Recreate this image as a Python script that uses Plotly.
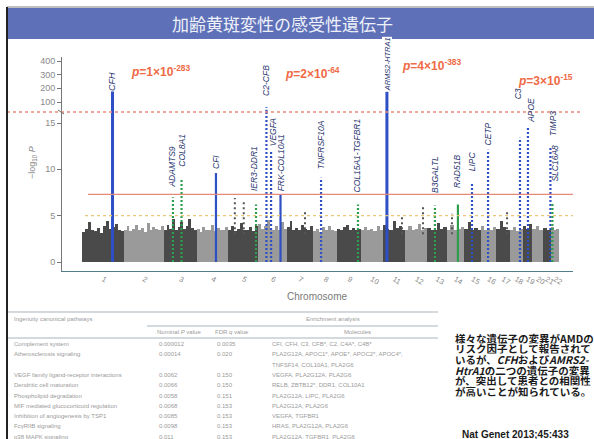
import math
import plotly.graph_objects as go

FIG_W, FIG_H = 594, 439

# ---------------- data ----------------
chrom_names = [str(i) for i in range(1, 23)]
chrom_len_mb = [249.3, 243.2, 198.0, 191.2, 180.9, 171.1, 159.1, 146.4, 141.2, 135.5, 135.0,
                133.9, 115.2, 107.3, 102.5, 90.4, 81.2, 78.1, 59.1, 63.0, 48.1, 51.3]

# upper envelope of the bulk signal (-log10 P) along each chromosome
bulk_signal = [
    [3.2, 3.6, 4.3, 3.4, 3.3, 3.7, 3.1, 3.9, 4.4, 3.6, 3.8, 4.1, 3.5, 3.3],
    [3.5, 3.9, 3.3, 3.6, 4.0, 3.4, 3.7, 3.2, 4.2, 3.5, 3.8, 3.6, 3.4, 3.9],
    [3.4, 4.0, 3.6, 4.6, 3.5, 3.8, 4.3, 3.6, 3.9, 4.6, 3.7, 3.4],
    [3.6, 3.2, 3.8, 3.4, 3.5, 4.0, 3.3, 3.7, 3.5, 3.4, 3.8],
    [3.5, 3.9, 3.3, 3.6, 4.2, 3.5, 3.4, 3.8, 3.3, 3.9],
    [4.1, 3.6, 3.9, 4.5, 3.7, 3.5, 3.9, 3.4, 4.3, 3.6],
    [3.8, 4.4, 3.5, 3.7, 3.4, 4.0, 3.6, 3.5, 3.9],
    [3.3, 3.6, 3.2, 3.8, 3.4, 3.9, 3.5, 3.3],
    [3.6, 3.4, 3.8, 4.0, 3.5, 3.7, 3.4, 3.6],
    [3.5, 3.8, 3.4, 3.6, 3.3, 3.9, 3.5],
    [4.0, 3.6, 3.5, 4.4, 3.7, 3.9, 3.5],
    [3.4, 3.9, 3.5, 3.6, 4.1, 3.4, 3.7],
    [3.7, 3.4, 3.5, 4.2, 3.6, 3.8],
    [3.5, 4.0, 3.4, 3.6, 3.8],
    [3.6, 4.3, 3.5, 3.7, 3.4],
    [3.9, 3.5, 3.7, 3.4, 3.8],
    [3.6, 4.4, 3.8, 3.5],
    [3.5, 3.8, 3.3, 3.6],
    [3.9, 3.6, 4.1],
    [3.6, 3.9, 3.5],
    [3.7, 3.4],
    [3.8, 3.5, 3.6],
]

# sub-threshold spikes (genome-wide position in Mb, -log10 P)
minor_pos_mb = [921, 975, 1345, 1931, 2058, 2233, 2566]
minor_log_p = [6.9, 6.7, 5.6, 5.0, 5.9, 5.2, 5.4]

# highlighted loci (genome-wide position in Mb, known / new)
locus_names = ["CFH", "ADAMTS9", "COL8A1", "CFI", "IER3-DDR1", "C2-CFB", "VEGFA",
               "FRK-COL10A1", "TNFRSF10A", "COL15A1-TGFBR1", "ARMS2-HTRA1", "B3GALTL",
               "RAD51B", "LIPC", "CETP", "C3", "APOE", "TIMP3", "SLC16A8"]
locus_pos_mb = [182, 547, 599, 807, 1049, 1112, 1140, 1197, 1442, 1665, 1840, 2130,
                2269, 2354, 2451, 2644, 2692, 2828, 2840]
locus_status = ["known", "new", "new", "known", "new", "known", "known", "known", "known",
                "new", "known", "new", "new", "known", "known", "known", "known", "known", "new"]

# strongest signals, as P = mantissa x 10^exponent
lead_loci = ["CFH", "C2-CFB", "ARMS2-HTRA1", "APOE"]
lead_mantissa = [1, 2, 4, 3]
lead_exponent = [-283, -64, -383, -15]

# peak -log10 P of the remaining loci
other_log_p = {"ADAMTS9": 7.0, "COL8A1": 9.0, "CFI": 9.6, "IER3-DDR1": 6.2, "VEGFA": 11.9,
               "FRK-COL10A1": 7.3, "TNFRSF10A": 9.1, "COL15A1-TGFBR1": 6.2, "B3GALTL": 6.1,
               "RAD51B": 6.2, "LIPC": 8.5, "CETP": 12.1, "C3": 13.4, "TIMP3": 12.3,
               "SLC16A8": 6.4}

sig_line = 7.3
sugg_line = 5.0

# pathway enrichment table
pathways = ["Complement system", "Atherosclerosis signaling", "",
            "VEGF family ligand-receptor interactions", "Dendritic cell maturation",
            "Phospholipid degradation", "MIF mediated glucocorticoid regulation",
            "Inhibition of angiogenesis by TSP1", "FcγRIIB signaling", "p38 MAPK signaling"]
nominal_p = ["0.000012", "0.00014", "", "0.0062", "0.0066", "0.0058", "0.0068", "0.0085",
             "0.0098", "0.011"]
fdr_q = ["0.0035", "0.020", "", "0.150", "0.150", "0.151", "0.153", "0.153", "0.153", "0.153"]
molecules = ["CFI, CFH, C3, CFB*, C2, C4A*, C4B*",
             "PLA2G12A, APOC1*, APOE*, APOC2*, APOC4*,",
             "TNFSF14, COL10A1, PLA2G6",
             "VEGFA, PLA2G12A, PLA2G6",
             "RELB, ZBTB12*, DDR1, COL10A1",
             "PLA2G12A, LIPC, PLA2G6",
             "PLA2G12A, PLA2G6",
             "VEGFA, TGFBR1",
             "HRAS, PLA2G12A, PLA2G6",
             "PLA2G12A, TGFBR1, PLA2G6"]

note_lines = ["様々な遺伝子の変異がAMDの",
              "リスク因子として報告されて",
              "いるが、<i>CFH</i>および<i>AMRS2-</i>",
              "<i>HtrA1</i>の二つの遺伝子の変異",
              "が、突出して患者との相関性",
              "が高いことが知られている。"]
citation = "Nat Genet 2013;45:433"
title = "加齢黄斑変性の感受性遺伝子"

# ---------------- derived values ----------------
lead_log_p = {n: -(e + math.log10(m)) for n, m, e in zip(lead_loci, lead_mantissa, lead_exponent)}
locus_log_p = [lead_log_p.get(n, other_log_p.get(n)) for n in locus_names]


def px(x):
    return x / FIG_W


def py(y):
    return 1 - y / FIG_H


X0_PX, MB_PX = 82.4, 0.1655          # horizontal genome scale
AX_L, AX_R = 61, 573                  # plot area in pixels
LOW_BOT, BREAK, UP_TOP = 271, 112, 57
LOW_PX, UP_PX = 9.267, 0.13667        # pixels per unit on each y segment

x_range = [(AX_L - X0_PX) / MB_PX, (AX_R - X0_PX) / MB_PX]
low_range = [-(LOW_BOT - 262) / LOW_PX, (262 - BREAK) / LOW_PX]
up_range = [100 - (BREAK - 102) / UP_PX, 100 + (102 - UP_TOP) / UP_PX]

BLUE = "#2f4fc4"
GREEN = "#2e9e4c"
LABEL = "#2b3770"
RED = "#ef6a45"
GREY_TXT = "#8a8a8a"
FONT = "Liberation Sans, Arial, sans-serif"
JP = "Noto Sans CJK JP"

starts = []
acc = 0.0
for L in chrom_len_mb:
    starts.append(acc)
    acc += L
centers = [s + L / 2 for s, L in zip(starts, chrom_len_mb)]

fig = go.Figure()

# bulk signal as bars, alternating shades by chromosome
for i, (s, L, vals) in enumerate(zip(starts, chrom_len_mb, bulk_signal)):
    n = len(vals)
    w = L / n
    fig.add_trace(go.Bar(
        x=[s + (k + 0.5) * w for k in range(n)], y=vals, width=[w] * n,
        marker=dict(color="#4a4a4a" if i % 2 == 0 else "#9a9a9a", line=dict(width=0)),
        xaxis="x", yaxis="y", showlegend=False, hoverinfo="skip"))

# sub-threshold spikes
for pos, val in zip(minor_pos_mb, minor_log_p):
    fig.add_trace(go.Scatter(
        x=[pos, pos], y=[3, val], mode="lines",
        line=dict(color="#555555", width=2, dash="2px,3px"),
        xaxis="x", yaxis="y", showlegend=False, hoverinfo="skip"))

# highlighted loci: lower segment and (clipped) upper segment
solid = {"CFH", "CFI", "FRK-COL10A1", "ARMS2-HTRA1", "RAD51B"}
for name, pos, val, st in zip(locus_names, locus_pos_mb, locus_log_p, locus_status):
    col = BLUE if st == "known" else GREEN
    dash = "solid" if name in solid else "2px,2px"
    w = 3 if name in ("CFH", "ARMS2-HTRA1") else 2.2
    fig.add_trace(go.Scatter(x=[pos, pos], y=[0, val], mode="lines",
                             line=dict(color=col, width=w, dash=dash),
                             xaxis="x", yaxis="y", showlegend=False, hoverinfo="skip"))
    if val > low_range[1]:
        fig.add_trace(go.Scatter(x=[pos, pos], y=[0, val], mode="lines",
                                 line=dict(color=col, width=w, dash=dash),
                                 xaxis="x", yaxis="y2", showlegend=False, hoverinfo="skip"))

ann = []
shapes = []

# gene labels (vertical); the two tallest labels sit on a white box over their peaks
label_style = {"CFH": (0, -15, 9), "ADAMTS9": (-1, 9, 8.5), "COL8A1": (1, 11, 8.5),
               "CFI": (0, 3, 8.5), "IER3-DDR1": (-2, 12, 8.5), "C2-CFB": (0, 10, 8.5),
               "VEGFA": (2, 4, 8.5), "FRK-COL10A1": (0, 2, 8.5), "TNFRSF10A": (0, 7, 8.5),
               "COL15A1-TGFBR1": (-1, 11, 8.5), "ARMS2-HTRA1": (0, -29, 7.5),
               "B3GALTL": (0, 12, 8.5), "RAD51B": (-1, 16, 8.5), "LIPC": (0, 11, 8.5),
               "CETP": (0, 3, 8.5), "C3": (-2, 38, 8.5), "APOE": (3, 4, 8.5),
               "TIMP3": (2, 11, 8.5), "SLC16A8": (3, 20, 8.5)}
for name, pos, val in zip(locus_names, locus_pos_mb, locus_log_p):
    dx, dy, fs = label_style[name]
    on_upper = val > low_range[1]
    boxed = name in ("CFH", "ARMS2-HTRA1")
    ann.append(dict(x=pos, y=val, xref="x", yref="y2" if on_upper else "y",
                    text="<i>%s</i>" % name, textangle=-90, showarrow=False,
                    xanchor="center", yanchor="bottom", xshift=dx, yshift=dy,
                    bgcolor="white" if boxed else "rgba(0,0,0,0)", borderpad=0,
                    font=dict(family=FONT, size=fs, color=LABEL)))

# p-values of the strongest signals
p_place = {"CFH": (160, 71), "C2-CFB": (312, 73), "ARMS2-HTRA1": (431, 65), "APOE": (545, 80)}
for name, m, e in zip(lead_loci, lead_mantissa, lead_exponent):
    cx, cy = p_place[name]
    ann.append(dict(x=px(cx), y=py(cy), xref="paper", yref="paper", showarrow=False,
                    text="<b><i>p</i>=%d×10<sup>%d</sup></b>" % (m, e),
                    font=dict(family=FONT, size=12, color=RED),
                    xanchor="center", yanchor="middle"))

# axis text
ann.append(dict(x=px(33), y=py(163), xref="paper", yref="paper", showarrow=False,
                text="−log<sub>10</sub> <i>P</i>", textangle=-90, xanchor="center",
                yanchor="middle", font=dict(family=FONT, size=9, color=GREY_TXT)))
ann.append(dict(x=px(317), y=py(296), xref="paper", yref="paper", showarrow=False,
                text="Chromosome", xanchor="center", yanchor="middle",
                font=dict(family=FONT, size=10, color="#7a7a7a")))

# threshold lines
shapes.append(dict(type="line", xref="paper", yref="paper", x0=px(7), x1=px(580),
                   y0=py(BREAK), y1=py(BREAK), line=dict(color="#ec8b78", width=1.5, dash="dot")))
shapes.append(dict(type="line", xref="paper", yref="y", x0=px(88), x1=px(AX_R),
                   y0=sig_line, y1=sig_line, line=dict(color="#e58a7a", width=1.3)))
shapes.append(dict(type="line", xref="paper", yref="y", x0=px(85), x1=px(AX_R),
                   y0=sugg_line, y1=sugg_line, line=dict(color="#e6c878", width=1.2, dash="dot")))
# axis break mark
shapes.append(dict(type="line", xref="paper", yref="paper", x0=px(58), x1=px(64),
                   y0=py(110), y1=py(114), line=dict(color="#666", width=1)))

# ---- slide frame and banner ----
shapes.append(dict(type="rect", xref="paper", yref="paper", x0=px(7), x1=1, y0=py(39), y1=py(8),
                   fillcolor="#5e70b8", line=dict(width=0), layer="below"))
shapes.append(dict(type="line", xref="paper", yref="paper", x0=px(7), x1=1, y0=py(7), y1=py(7),
                   line=dict(color="#7d7d7d", width=1)))
shapes.append(dict(type="line", xref="paper", yref="paper", x0=px(7), x1=px(7), y0=py(7), y1=0,
                   line=dict(color="#222222", width=2)))
ann.append(dict(x=px(282), y=py(23), xref="paper", yref="paper", showarrow=False, text=title,
                xanchor="center", yanchor="middle",
                font=dict(family=JP, size=17, color="#eef0fa")))

# ---- table ----
TBL_L, TBL_R = 8, 438
TFS = 6
tcol = "#9a9a9a"
for yy, x0 in [(312, TBL_L), (326, 147), (338, TBL_L)]:
    shapes.append(dict(type="line", xref="paper", yref="paper", x0=px(x0), x1=px(TBL_R),
                       y0=py(yy), y1=py(yy), line=dict(color="#a9b3bd", width=1)))


def tcell(x, y, s, anchor="left"):
    ann.append(dict(x=px(x), y=py(y), xref="paper", yref="paper", showarrow=False, text=s,
                    xanchor=anchor, yanchor="middle", font=dict(family=FONT, size=TFS, color=tcol)))


tcell(12, 319, "Ingenuity canonical pathways")
tcell(333, 319, "Enrichment analysis", "center")
tcell(155, 332, "Nominal <i>P</i> value")
tcell(213, 332, "FDR <i>q</i> value")
tcell(357, 332, "Molecules", "center")
for i, (pw, npv, q, mol) in enumerate(zip(pathways, nominal_p, fdr_q, molecules)):
    yy = 344 + i * 10.3
    if pw:
        tcell(12, yy, pw)
    if npv:
        tcell(157, yy, npv)
    if q:
        tcell(215, yy, q)
    tcell(270, yy, mol)

# ---- note (tight line spacing, so each line gets its own fixed-height box) ----
for i, line in enumerate(note_lines):
    ann.append(dict(x=px(453), y=py(338 + i * 10.7), xref="paper", yref="paper", showarrow=False,
                    text="<b>%s</b>" % line, xanchor="left", yanchor="middle",
                    height=10.5, valign="middle",
                    font=dict(family=JP, size=10.5, color="#1a1a1a")))
ann.append(dict(x=px(515), y=py(434), xref="paper", yref="paper", showarrow=False,
                text="<b>%s</b>" % citation, xanchor="center", yanchor="middle",
                font=dict(family=FONT, size=10, color="#1a1a1a")))

axis_common = dict(showline=True, linecolor="#777777", linewidth=1, ticks="outside",
                   ticklen=4, tickcolor="#777777", showgrid=False, zeroline=False,
                   tickfont=dict(family=FONT, size=9, color=GREY_TXT))

fig.update_layout(
    width=FIG_W, height=FIG_H, margin=dict(l=0, r=0, t=0, b=0),
    paper_bgcolor="white", plot_bgcolor="rgba(0,0,0,0)",
    barmode="overlay", bargap=0, showlegend=False,
    xaxis=dict(domain=[px(AX_L), px(AX_R)], range=x_range, anchor="y",
               tickvals=centers, ticktext=chrom_names, ticks="", showline=True,
               linecolor="#4f7d8c", linewidth=1.2, showgrid=False, zeroline=False,
               tickfont=dict(family=FONT, size=7.5, color=GREY_TXT)),
    yaxis=dict(domain=[py(LOW_BOT), py(BREAK)], range=low_range, tickvals=[0, 5, 10, 15],
               anchor="free", position=px(AX_L), **axis_common),
    yaxis2=dict(domain=[py(BREAK), py(UP_TOP)], range=up_range, tickvals=[100, 200, 300, 400],
                anchor="free", position=px(AX_L), **axis_common),
    annotations=ann, shapes=shapes,
)

fig.write_html("out.html")
